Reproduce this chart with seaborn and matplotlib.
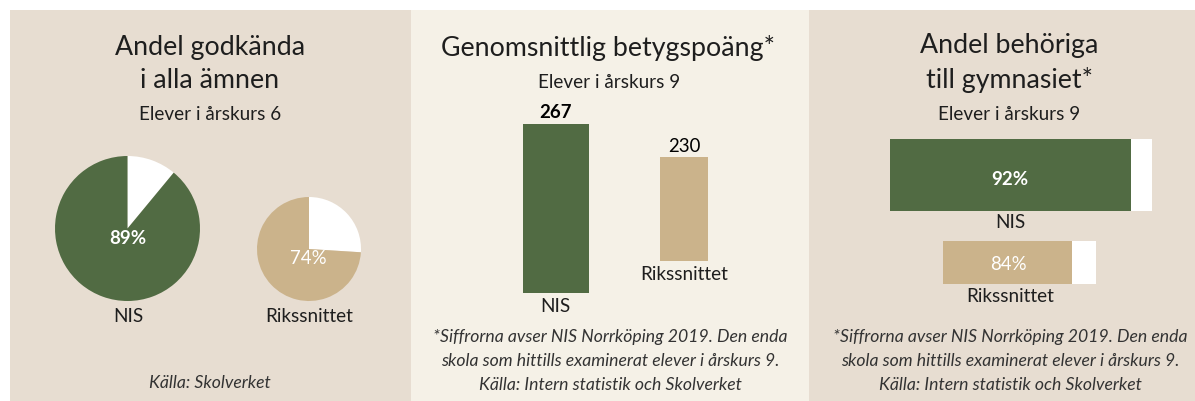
import matplotlib
matplotlib.use("Agg")
import matplotlib.pyplot as plt
import seaborn as sns
import pandas as pd
from matplotlib.patches import Rectangle

# ---- data ----
pie_labels = ["NIS", "Rikssnittet"]
pie_values = [89, 74]          # Andel godkända i alla ämnen (%)
bar_labels = ["NIS", "Rikssnittet"]
bar_values = [267, 230]        # Genomsnittlig betygspoäng
hbar_labels = ["NIS", "Rikssnittet"]
hbar_values = [92, 84]         # Andel behöriga till gymnasiet (%)

GREEN = "#516b43"
TAN = "#cbb38b"
BG_SIDE = "#e7ddd1"
BG_MID = "#f5f1e7"
TXT = "#1e1e1e"

sns.set_theme(style="white")
plt.rcParams["font.family"] = ["Lato", "DejaVu Sans"]

W, H = 1195, 401
fig = plt.figure(figsize=(W / 100, H / 100), dpi=100)
fig.patch.set_facecolor("white")

TITLE = 19.3
SUB = 13.6
LAB = 13.6
VAL = 13.4
FOOT = 12.7


def rect(x0, y0, x1, y1):
    return [x0 / W, 1 - y1 / H, (x1 - x0) / W, (y1 - y0) / H]


def ftext(x, y, s, size, **kw):
    kw.setdefault("color", TXT)
    fig.text(x / W, 1 - y / H, s, fontsize=size, ha="center", va="center",
             zorder=5, **kw)


# panel backgrounds
for (x0, x1, c) in [(10, 411, BG_SIDE), (411, 809, BG_MID), (809, 1195, BG_SIDE)]:
    fig.patches.append(Rectangle((x0 / W, 0), (x1 - x0) / W, 1 - 10 / H,
                                 transform=fig.transFigure, facecolor=c,
                                 edgecolor="none", zorder=-5))

# ---------- panel 1: pies ----------
ftext(210, 47, "Andel godkända", TITLE)
ftext(210, 80, "i alla ämnen", TITLE)
ftext(210, 115, "Elever i årskurs 6", SUB)

pie_boxes = [(55, 156, 200, 301), (257, 197, 361, 301)]
pie_cols = [GREEN, TAN]
for i, (val, box) in enumerate(zip(pie_values, pie_boxes)):
    ax = fig.add_axes(rect(*box))
    ax.set_zorder(1)
    ax.pie([100 - val, val], colors=["white", pie_cols[i]], startangle=90,
           counterclock=False, radius=1, wedgeprops=dict(linewidth=0))
    ax.set_xlim(-1, 1)
    ax.set_ylim(-1, 1)
    ax.set_aspect("equal")
    ax.axis("off")

ftext(128, 238, f"{pie_values[0]}%", VAL, color="white", fontweight="bold")
ftext(308, 258, f"{pie_values[1]}%", VAL, color="white")
ftext(128, 316, pie_labels[0], LAB)
ftext(309, 316, pie_labels[1], LAB)
ftext(210, 383, "Källa: Skolverket", FOOT, style="italic", color="#333333")

# ---------- panel 2: vertical bars ----------
ftext(608, 48, "Genomsnittlig betygspoäng*", TITLE)
ftext(609, 83, "Elever i årskurs 9", SUB)

bar_boxes = [(523, 124, 589, 293), (660, 157, 708, 261)]
bar_cols = [GREEN, TAN]
for i in range(2):
    ax = fig.add_axes(rect(*bar_boxes[i]))
    ax.set_zorder(1)
    df = pd.DataFrame({"cat": [bar_labels[i]], "val": [bar_values[i]]})
    sns.barplot(data=df, x="cat", y="val", color=bar_cols[i], width=1,
                saturation=1, ax=ax, linewidth=0)
    ax.set_xlim(-0.5, 0.5)
    ax.set_ylim(0, bar_values[i])
    ax.axis("off")

ftext(555, 113, str(bar_values[0]), VAL, fontweight="bold", color="black")
ftext(684, 146, str(bar_values[1]), VAL, color="black")
ftext(555, 307, bar_labels[0], LAB)
ftext(684, 274, bar_labels[1], LAB)

foot = ["*Siffrorna avser NIS Norrköping 2019. Den enda",
        "skola som hittills examinerat elever i årskurs 9.",
        "Källa: Intern statistik och Skolverket"]
for j, ln in enumerate(foot):
    ftext(610, 337 + 24 * j, ln, FOOT, style="italic", color="#333333")

# ---------- panel 3: horizontal 100% bars ----------
ftext(1009, 46, "Andel behöriga", TITLE)
ftext(1009, 80, "till gymnasiet*", TITLE)
ftext(1009, 115, "Elever i årskurs 9", SUB)

hbar_boxes = [(890, 139, 1152, 211), (943, 241, 1096, 284)]
for i in range(2):
    ax = fig.add_axes(rect(*hbar_boxes[i]))
    ax.set_zorder(1)
    df = pd.DataFrame({"cat": [hbar_labels[i]], "val": [hbar_values[i]],
                       "full": [100]})
    sns.barplot(data=df, y="cat", x="full", color="white", width=1,
                saturation=1, orient="h", ax=ax, linewidth=0)
    sns.barplot(data=df, y="cat", x="val", color=bar_cols[i], width=1,
                saturation=1, orient="h", ax=ax, linewidth=0)
    ax.set_xlim(0, 100)
    ax.set_ylim(0.5, -0.5)
    ax.axis("off")

ftext(1010, 179, f"{hbar_values[0]}%", VAL, color="white", fontweight="bold")
ftext(1008, 265, f"{hbar_values[1]}%", VAL, color="white")
ftext(1010, 223, hbar_labels[0], LAB)
ftext(1010, 297, hbar_labels[1], LAB)
for j, ln in enumerate(foot):
    ftext(1010, 337 + 24 * j, ln, FOOT, style="italic", color="#333333")

fig.savefig("out.png", dpi=100, facecolor=fig.get_facecolor())
